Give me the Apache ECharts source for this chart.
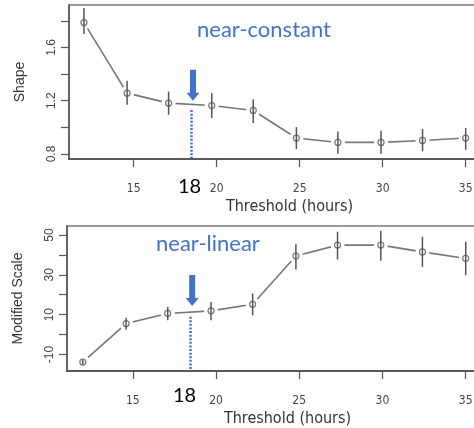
<!DOCTYPE html>
<html>
<head>
<meta charset="utf-8">
<script src="https://cdn.jsdelivr.net/npm/echarts@6/dist/echarts.min.js"></script>
<style>
  html, body { margin: 0; padding: 0; background: #fff; }
  #chart { width: 474px; height: 428px; }
</style>
</head>
<body>
<div id="chart"></div>
<script>
const narrowFont = '"Liberation Sans Narrow", "DejaVu Sans Condensed", sans-serif';
const plainFont = '"Liberation Sans", Arial, sans-serif';
const noteFont = 'Lato, "Open Sans", sans-serif';
const noteBlue = '#4472C4';

// data
const thresholds = [12, 14.6, 17.1, 19.7, 22.2, 24.8, 27.3, 29.9, 32.4, 35];
const shape = [1.787, 1.257, 1.182, 1.164, 1.127, 0.92, 0.887, 0.887, 0.902, 0.92];
const shapeLow = [1.702, 1.17, 1.095, 1.07, 1.032, 0.837, 0.802, 0.802, 0.82, 0.832];
const shapeHigh = [1.897, 1.35, 1.269, 1.257, 1.212, 1.002, 0.969, 0.975, 0.987, 0.995];
const scale = [-13.8, 5.5, 10.6, 11.9, 15.2, 39.4, 44.9, 44.9, 41.5, 38.2];
const scaleLow = [-15, 2.5, 7.2, 7.2, 9.7, 32.7, 37.7, 37, 34, 29.8];
const scaleHigh = [-12.6, 8.4, 13.9, 16.4, 20.6, 45.4, 51.6, 52.1, 49.1, 46.6];

const xTicks = [15, 20, 25, 30, 35];
const shapeTicks = [0.8, 1.0, 1.2, 1.4, 1.6, 1.8];
const shapeLabels = [0.8, 1.2, 1.6];
const scaleTicks = [-10, 0, 10, 20, 30, 40, 50];
const scaleLabels = [-10, 10, 30, 50];

// the "18" marker
const markerX = 18.45;
const arrowX = 18.57;
const shapeMarkTop = 1.13, shapeArrowTip = 1.2;
const scaleMarkTop = 9.0, scaleArrowTip = 14.3;

const arrowPath = 'path://M3.5,0 L9.5,0 L9.5,23 L13,23 L6.5,31 L0,23 L3.5,23 Z';

//-----------------------------------------------------------------------------
function xAxisFor(gridIndex, min, max) {
    return {
        gridIndex: gridIndex,
        type: 'value',
        min: min,
        max: max,
        name: 'Threshold (hours)',
        nameLocation: 'middle',
        nameGap: 40,
        nameTextStyle: { fontFamily: narrowFont, fontSize: 16, color: '#333' },
        splitLine: { show: false },
        axisLine: { show: true, onZero: false, lineStyle: { color: '#444', width: 1.5 } },
        axisTick: { show: true, length: 8, customValues: xTicks, lineStyle: { color: '#555', width: 1.2 } },
        axisLabel: { customValues: xTicks, margin: 24, fontFamily: narrowFont, fontSize: 12, color: '#444' },
    };
}

function yAxisFor(gridIndex, min, max, ticks, labels, name) {
    return {
        gridIndex: gridIndex,
        type: 'value',
        min: min,
        max: max,
        name: name,
        nameLocation: 'middle',
        nameGap: 42,
        nameTextStyle: { fontFamily: plainFont, fontSize: 14, color: '#333' },
        splitLine: { show: false },
        axisLine: { show: true, onZero: false, lineStyle: { color: '#555', width: 1.5 } },
        axisTick: { show: true, length: 8, customValues: ticks, lineStyle: { color: '#555', width: 1.2 } },
        axisLabel: {
            customValues: labels,
            rotate: 90,
            margin: 11,
            fontFamily: plainFont,
            fontSize: 12,
            color: '#444',
            formatter: (v) => String(v),
        },
    };
}

function errorSeries(index, low, high) {
    return {
        type: 'custom',
        xAxisIndex: index,
        yAxisIndex: index,
        z: 4,
        silent: true,
        data: thresholds.map((t, i) => [t, low[i], high[i]]),
        encode: { x: 0, y: [1, 2] },
        renderItem: function (params, api) {
            const a = api.coord([api.value(0), api.value(1)]);
            const b = api.coord([api.value(0), api.value(2)]);
            return {
                type: 'line',
                shape: { x1: a[0], y1: a[1], x2: b[0], y2: b[1] },
                style: { stroke: '#555', lineWidth: 1.5 },
            };
        },
    };
}

function lineSeries(index, values, markTop, arrowTip) {
    return {
        type: 'line',
        xAxisIndex: index,
        yAxisIndex: index,
        data: thresholds.map((t, i) => [t, values[i]]),
        // white discs leave the small gaps round each point
        symbol: 'circle',
        symbolSize: 14,
        itemStyle: { color: '#fff', borderWidth: 0 },
        lineStyle: { color: '#777', width: 1.6 },
        z: 2,
        silent: true,
        markLine: {
            silent: true,
            symbol: 'none',
            label: { show: false },
            lineStyle: { color: noteBlue, type: [2, 1.6], width: 2.5 },
            data: [[{ coord: [markerX, markTop] }, { coord: [markerX, index === 0 ? 0.7625 : -18.3] }]],
        },
        markPoint: {
            silent: true,
            symbol: arrowPath,
            symbolSize: [13, 31],
            symbolOffset: [0, '-50%'],
            itemStyle: { color: noteBlue },
            label: { show: false },
            data: [{ coord: [arrowX, arrowTip] }],
        },
    };
}

function circleSeries(index, values) {
    return {
        type: 'scatter',
        xAxisIndex: index,
        yAxisIndex: index,
        data: thresholds.map((t, i) => [t, values[i]]),
        symbol: 'circle',
        symbolSize: 6,
        itemStyle: { color: 'rgba(0,0,0,0)', borderColor: '#555', borderWidth: 1.2 },
        z: 5,
        silent: true,
    };
}

function noteText(left, top, text, size, color) {
    return {
        type: 'text',
        left: left,
        top: top,
        style: { text: text, fontFamily: noteFont, fontSize: size, fill: color },
    };
}

var option = {
    animation: false,
    grid: [
        { left: 69, top: 5, width: 441, height: 154, outerBoundsMode: 'none', show: true, borderColor: '#999', borderWidth: 2, backgroundColor: 'transparent' },
        { left: 67, top: 226, width: 441, height: 145, outerBoundsMode: 'none', show: true, borderColor: '#999', borderWidth: 2, backgroundColor: 'transparent' },
    ],
    xAxis: [
        xAxisFor(0, 11.1, 37.67),
        xAxisFor(1, 11.05, 37.54),
    ],
    yAxis: [
        yAxisFor(0, 0.7625, 1.919, shapeTicks, shapeLabels, 'Shape'),
        yAxisFor(1, -18.3, 54.5, scaleTicks, scaleLabels, 'Modified Scale'),
    ],
    series: [
        lineSeries(0, shape, shapeMarkTop, shapeArrowTip),
        errorSeries(0, shapeLow, shapeHigh),
        circleSeries(0, shape),
        lineSeries(1, scale, scaleMarkTop, scaleArrowTip),
        errorSeries(1, scaleLow, scaleHigh),
        circleSeries(1, scale),
    ],
    graphic: [
        noteText(197, 19, 'near-constant', 22, noteBlue),
        noteText(156, 233, 'near-linear', 22, noteBlue),
        noteText(178, 177, '18', 20, '#000'),
        noteText(173, 386, '18', 20, '#000'),
    ],
};

var myChart = echarts.init(document.getElementById('chart'), null, { renderer: 'canvas' });
myChart.setOption(option);
</script>
</body>
</html>
